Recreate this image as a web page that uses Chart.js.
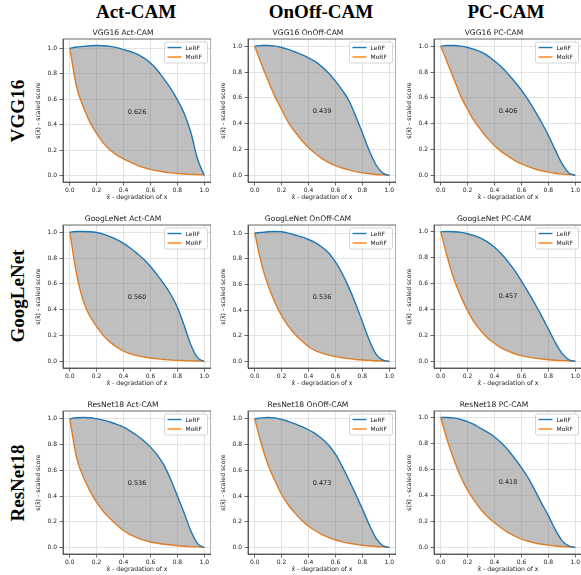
<!DOCTYPE html>
<html>
<head>
<meta charset="utf-8">
<script src="https://cdn.jsdelivr.net/npm/chart.js@4.4.1/dist/chart.umd.min.js"></script>
<style>
  body { margin: 0; width: 581px; height: 575px; overflow: hidden; background: #fff; position: relative; }
  canvas.plot { position: absolute; }
  .hdr { position: absolute; font-family: "Liberation Serif", "Times New Roman", serif; font-weight: bold;
         font-size: 19px; line-height: 1; color: #000; white-space: nowrap; }
  .col { transform: translate(-50%, -50%); }
  .row { transform: translate(-50%, -50%) rotate(-90deg); }
</style>
</head>
<body>
<script>
// x positions of the degradation curve samples
const xs = [0, 0.05, 0.1, 0.15, 0.2, 0.25, 0.3, 0.35, 0.4, 0.45, 0.5, 0.55, 0.6, 0.65, 0.7, 0.75, 0.8, 0.85, 0.9, 0.95, 1.0];

const models = ['VGG16', 'GoogLeNet', 'ResNet18'];
const methods = ['Act-CAM', 'OnOff-CAM', 'PC-CAM'];
const areaVals = [
  ['0.626', '0.439', '0.406'],
  ['0.560', '0.536', '0.457'],
  ['0.536', '0.473', '0.418']
];
const xTicks = [0, 0.2, 0.4, 0.6, 0.8, 1.0];
const yTicks = [0, 0.2, 0.4, 0.6, 0.8, 1.0];

// VGG16
const vggActLerf   = [1.0, 1.01, 1.015, 1.02, 1.022, 1.02, 1.015, 1.005, 0.99, 0.975, 0.955, 0.925, 0.885, 0.83, 0.76, 0.685, 0.595, 0.49, 0.34, 0.13, 0.0];
const vggActMorf   = [1.0, 0.7, 0.54, 0.42, 0.33, 0.255, 0.2, 0.16, 0.13, 0.105, 0.08, 0.062, 0.048, 0.037, 0.028, 0.021, 0.016, 0.012, 0.009, 0.007, 0.005];
const vggOnoffLerf = [1.0, 1.005, 1.005, 1.0, 0.99, 0.975, 0.955, 0.935, 0.91, 0.88, 0.84, 0.79, 0.73, 0.66, 0.58, 0.46, 0.33, 0.195, 0.085, 0.02, 0.0];
const vggOnoffMorf = [1.0, 0.86, 0.73, 0.61, 0.51, 0.41, 0.335, 0.27, 0.215, 0.17, 0.13, 0.1, 0.077, 0.058, 0.043, 0.03, 0.02, 0.013, 0.008, 0.005, 0.003];
const vggPcLerf    = [1.0, 1.005, 1.005, 1.0, 0.99, 0.975, 0.955, 0.925, 0.885, 0.84, 0.785, 0.725, 0.66, 0.585, 0.5, 0.41, 0.31, 0.2, 0.095, 0.022, 0.0];
const vggPcMorf    = [1.0, 0.87, 0.74, 0.61, 0.51, 0.42, 0.35, 0.285, 0.23, 0.185, 0.15, 0.115, 0.09, 0.068, 0.05, 0.037, 0.026, 0.017, 0.011, 0.007, 0.005];

// GoogLeNet
const gooActLerf   = [1.0, 1.005, 1.005, 1.003, 0.997, 0.985, 0.966, 0.943, 0.914, 0.878, 0.836, 0.79, 0.735, 0.67, 0.6, 0.52, 0.42, 0.28, 0.13, 0.03, 0.0];
const gooActMorf   = [1.0, 0.68, 0.47, 0.35, 0.27, 0.2, 0.15, 0.11, 0.08, 0.06, 0.045, 0.035, 0.027, 0.02, 0.015, 0.012, 0.009, 0.007, 0.005, 0.004, 0.003];
const gooOnoffLerf = [1.0, 1.005, 1.01, 1.012, 1.01, 1.0, 0.985, 0.97, 0.95, 0.925, 0.89, 0.845, 0.775, 0.685, 0.575, 0.45, 0.31, 0.17, 0.06, 0.012, 0.0];
const gooOnoffMorf = [1.0, 0.76, 0.59, 0.46, 0.355, 0.275, 0.21, 0.16, 0.115, 0.085, 0.065, 0.05, 0.038, 0.029, 0.022, 0.016, 0.012, 0.009, 0.006, 0.004, 0.003];
const gooPcLerf    = [1.0, 1.002, 1.0, 0.995, 0.985, 0.97, 0.95, 0.92, 0.88, 0.83, 0.77, 0.7, 0.62, 0.535, 0.445, 0.35, 0.25, 0.15, 0.065, 0.015, 0.0];
const gooPcMorf    = [1.0, 0.8, 0.63, 0.5, 0.39, 0.3, 0.235, 0.18, 0.14, 0.105, 0.08, 0.06, 0.045, 0.034, 0.026, 0.019, 0.014, 0.01, 0.007, 0.005, 0.003];

// ResNet18
const resActLerf   = [1.0, 1.008, 1.01, 1.008, 1.0, 0.99, 0.975, 0.957, 0.935, 0.905, 0.87, 0.83, 0.78, 0.72, 0.64, 0.53, 0.4, 0.27, 0.13, 0.03, 0.0];
const resActMorf   = [1.0, 0.7, 0.55, 0.44, 0.35, 0.28, 0.225, 0.175, 0.13, 0.1, 0.075, 0.057, 0.043, 0.033, 0.025, 0.019, 0.014, 0.01, 0.007, 0.005, 0.003];
const resOnoffLerf = [1.0, 1.007, 1.01, 1.007, 0.995, 0.98, 0.96, 0.94, 0.915, 0.885, 0.845, 0.795, 0.725, 0.63, 0.525, 0.415, 0.3, 0.18, 0.075, 0.015, 0.0];
const resOnoffMorf = [1.0, 0.8, 0.64, 0.52, 0.41, 0.33, 0.265, 0.21, 0.165, 0.13, 0.1, 0.077, 0.058, 0.044, 0.033, 0.024, 0.017, 0.012, 0.008, 0.005, 0.003];
const resPcLerf    = [1.0, 1.0, 0.995, 0.985, 0.968, 0.945, 0.915, 0.885, 0.85, 0.805, 0.75, 0.685, 0.615, 0.535, 0.44, 0.34, 0.245, 0.14, 0.055, 0.012, 0.0];
const resPcMorf    = [1.0, 0.82, 0.67, 0.54, 0.44, 0.36, 0.29, 0.235, 0.19, 0.15, 0.115, 0.087, 0.065, 0.048, 0.035, 0.025, 0.018, 0.012, 0.008, 0.005, 0.003];

const lerf = [
  [vggActLerf, vggOnoffLerf, vggPcLerf],
  [gooActLerf, gooOnoffLerf, gooPcLerf],
  [resActLerf, resOnoffLerf, resPcLerf]
];
const morf = [
  [vggActMorf, vggOnoffMorf, vggPcMorf],
  [gooActMorf, gooOnoffMorf, gooPcMorf],
  [resActMorf, resOnoffMorf, resPcMorf]
];

// page layout
const colLeft = [35, 220, 406];
const rowTop = [26, 212, 398];
const colCenter = [136, 321, 506];
const rowCenter = [111, 296, 483];
const FONT = '"DejaVu Sans", sans-serif';

// draws the box frame, the area value and the legend
const framePlugin = {
  id: 'frameBox',
  afterDatasetsDraw(chart, args, opts) {
    const { ctx, chartArea: a, scales } = chart;
    ctx.save();
    ctx.font = '6.5px ' + FONT;
    ctx.fillStyle = '#222';
    ctx.textAlign = 'center';
    ctx.textBaseline = 'middle';
    ctx.fillText(opts.text, scales.x.getPixelForValue(0.5), scales.y.getPixelForValue(0.5));

    ctx.strokeStyle = '#444';
    ctx.lineWidth = 0.8;
    ctx.strokeRect(a.left, a.top, a.width, a.height);

    // legend
    const w = 43, h = 21;
    const x0 = a.right - 3.5 - w, y0 = a.top + 3;
    ctx.beginPath();
    ctx.roundRect(x0, y0, w, h, 2);
    ctx.fillStyle = 'rgba(255,255,255,0.8)';
    ctx.fill();
    ctx.strokeStyle = '#cccccc';
    ctx.lineWidth = 0.8;
    ctx.stroke();
    ctx.font = '6px ' + FONT;
    ctx.textAlign = 'left';
    chart.data.datasets.forEach((ds, i) => {
      const y = y0 + 5.5 + i * 9.5;
      ctx.strokeStyle = ds.borderColor;
      ctx.lineWidth = 1.4;
      ctx.beginPath();
      ctx.moveTo(x0 + 3, y);
      ctx.lineTo(x0 + 17, y);
      ctx.stroke();
      ctx.fillStyle = '#222';
      ctx.fillText(ds.label, x0 + 21, y + 0.5);
    });
    ctx.restore();
  }
};

function addHeader(text, cls, x, y) {
  const d = document.createElement('div');
  d.className = 'hdr ' + cls;
  d.textContent = text;
  d.style.left = x + 'px';
  d.style.top = y + 'px';
  document.body.appendChild(d);
}

function makeChart(r, c) {
  const canvas = document.createElement('canvas');
  canvas.className = 'plot';
  canvas.width = 176;
  canvas.height = 175;
  canvas.style.left = colLeft[c] + 'px';
  canvas.style.top = rowTop[r] + 'px';
  document.body.appendChild(canvas);

  const le = lerf[r][c];
  const mo = morf[r][c];
  const all = le.concat(mo);
  const lo = Math.min(...all), hi = Math.max(...all);
  const pad = (hi - lo) * 0.05;

  const tickFont = { family: FONT, size: 6 };
  const titleFont = { family: FONT, size: 6.2 };

  new Chart(canvas, {
    type: 'line',
    data: {
      datasets: [{
        label: 'LeRF',
        data: xs.map((x, i) => ({ x: x, y: le[i] })),
        borderColor: '#1f77b4',
        borderWidth: 1.4,
        pointRadius: 0,
        cubicInterpolationMode: 'monotone',
        fill: '+1',
        backgroundColor: 'rgba(128,128,128,0.5)'
      }, {
        label: 'MoRF',
        data: xs.map((x, i) => ({ x: x, y: mo[i] })),
        borderColor: '#ff7f0e',
        borderWidth: 1.4,
        pointRadius: 0,
        cubicInterpolationMode: 'monotone',
        fill: false
      }]
    },
    options: {
      responsive: false,
      animation: false,
      layout: { padding: 0 },
      plugins: {
        legend: { display: false },
        tooltip: { enabled: false },
        title: {
          display: true,
          text: models[r] + ' ' + methods[c],
          color: '#222',
          font: { family: FONT, size: 7.6, weight: 'normal' },
          padding: { top: 2.4, bottom: 1.5 }
        },
        frameBox: { text: areaVals[r][c] }
      },
      scales: {
        x: {
          type: 'linear',
          min: -0.05,
          max: 1.05,
          afterBuildTicks: s => { s.ticks = xTicks.map(v => ({ value: v })); },
          afterFit: s => { s.height = 19; },
          ticks: { color: '#222', font: tickFont, padding: 1, maxRotation: 0,
                   callback: v => v.toFixed(1) },
          grid: { color: '#dcdcdc', lineWidth: 0.8, tickColor: '#444', tickLength: 3.5 },
          border: { display: true, color: '#444', width: 0.8 },
          title: { display: true, text: 'x\u0302 - degradation of x', color: '#222',
                   font: titleFont, padding: 0 }
        },
        y: {
          type: 'linear',
          min: lo - pad,
          max: hi + pad,
          afterBuildTicks: s => { s.ticks = yTicks.map(v => ({ value: v })); },
          afterFit: s => { s.width = 28; },
          ticks: { color: '#222', font: tickFont, padding: 2.5,
                   callback: v => v.toFixed(1) },
          grid: { color: '#dcdcdc', lineWidth: 0.8, tickColor: '#444', tickLength: 3.5 },
          border: { display: true, color: '#444', width: 0.8 },
          title: { display: true, text: 's(x\u0302) - scaled score', color: '#222',
                   font: titleFont, padding: 0 }
        }
      }
    },
    plugins: [framePlugin]
  });
}

for (let c = 0; c < 3; c++) addHeader(methods[c], 'col', colCenter[c], 11);
for (let r = 0; r < 3; r++) addHeader(models[r], 'row', 17, rowCenter[r]);
for (let r = 0; r < 3; r++) {
  for (let c = 0; c < 3; c++) makeChart(r, c);
}
</script>
</body>
</html>
